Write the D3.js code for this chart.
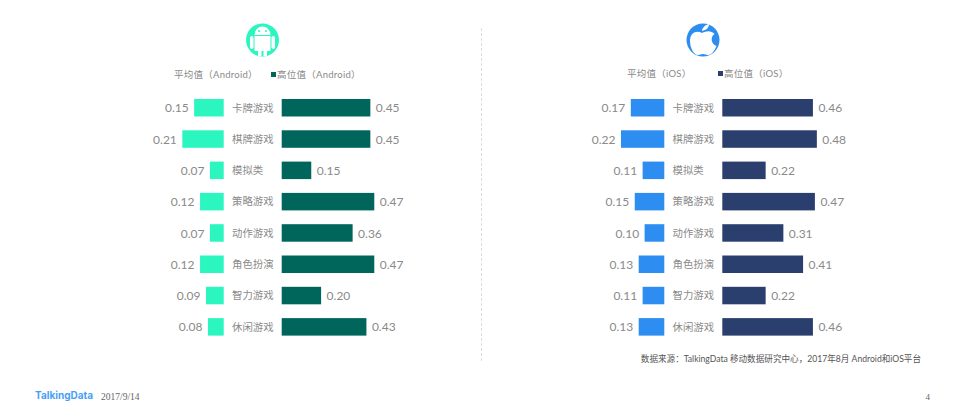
<!DOCTYPE html>
<html><head><meta charset="utf-8">
<script src="https://cdn.jsdelivr.net/npm/d3@7/dist/d3.min.js"></script>
<style>html,body{margin:0;padding:0;background:#fff}svg{display:block}
text{font-family:Lato,"Noto Sans CJK SC","Noto Sans",sans-serif}</style></head><body>
<svg id="c" width="965" height="420"></svg>
<script>
const categories = ["卡牌游戏","棋牌游戏","模拟类","策略游戏","动作游戏","角色扮演","智力游戏","休闲游戏"];
const androidAvg = [0.15,0.21,0.07,0.12,0.07,0.12,0.09,0.08];
const androidHigh = [0.45,0.45,0.15,0.47,0.36,0.47,0.20,0.43];
const iosAvg = [0.17,0.22,0.11,0.15,0.10,0.13,0.11,0.13];
const iosHigh = [0.46,0.48,0.22,0.47,0.31,0.41,0.22,0.46];
const legendAndroid = ["平均值（Android）","高位值（Android）"];
const legendIos = ["平均值（iOS）","高位值（iOS）"];
const sourceText = "数据来源：TalkingData 移动数据研究中心，2017年8月 Android和iOS平台";

const svg = d3.select("#c");
const y = d3.scaleBand().domain(categories).range([92.1,342.5]).paddingInner(0.441).paddingOuter(0.22);
const gray="#8a8a8a";
function panel(o){
  const xL=d3.scaleLinear().domain([0,1]).range([o.left,o.left-197]);
  const xR=d3.scaleLinear().domain([0,1]).range([o.right,o.right+197]);
  const fmt=d3.format(".2f");
  const g=svg.append("g");
  g.selectAll(".a").data(o.avg).join("rect").attr("x",d=>xL(d)).attr("width",d=>xL(0)-xL(d))
    .attr("y",(d,i)=>y(categories[i])).attr("height",y.bandwidth()).attr("fill",o.c1);
  g.selectAll(".h").data(o.high).join("rect").attr("x",xR(0)).attr("width",d=>xR(d)-xR(0))
    .attr("y",(d,i)=>y(categories[i])).attr("height",y.bandwidth()).attr("fill",o.c2);
  g.selectAll(".al").data(o.avg).join("text").attr("x",d=>xL(d)-5.5).attr("text-anchor","end")
    .attr("y",(d,i)=>y(categories[i])+y.bandwidth()/2+4.6).attr("font-size",12).attr("fill",gray).text(fmt);
  g.selectAll(".hl").data(o.high).join("text").attr("x",d=>xR(d)+5.5)
    .attr("y",(d,i)=>y(categories[i])+y.bandwidth()/2+4.6).attr("font-size",12).attr("fill",gray).text(fmt);
  g.selectAll(".cl").data(categories).join("text").attr("x",o.cat)
    .attr("y",d=>y(d)+y.bandwidth()/2+3.8).attr("font-size",10.4).attr("fill",gray).text(d=>d);
  g.append("text").attr("x",o.l1).attr("y",o.ly).attr("font-size",9.5).attr("letter-spacing",.25).attr("fill",gray).text(o.legend[0]);
  g.append("rect").attr("x",o.sw).attr("y",o.ly-6).attr("width",5).attr("height",5).attr("fill",o.c2);
  g.append("text").attr("x",o.sw+6).attr("y",o.ly).attr("font-size",9.5).attr("letter-spacing",.25).attr("fill",gray).text(o.legend[1]);
}
panel({left:223.7,right:281.7,cat:232,avg:androidAvg,high:androidHigh,c1:"#2cf6c0",c2:"#00655a",
  legend:legendAndroid,l1:174,sw:271,ly:78});
panel({left:664.3,right:722.3,cat:672.5,avg:iosAvg,high:iosHigh,c1:"#2d8df0",c2:"#2b3f6e",
  legend:legendIos,l1:627,sw:718,ly:77});

// divider
svg.append("line").attr("x1",481.5).attr("x2",481.5).attr("y1",28).attr("y2",361)
  .attr("stroke","#d4d4d4").attr("stroke-width",.8).attr("stroke-dasharray","3 2");

// android icon
const a=svg.append("g").attr("transform","translate(262.5,40)");
a.append("circle").attr("r",16.5).attr("fill","#2cf6c0");
a.append("path").attr("fill","#fff").attr("d","M-8,-5 A8,8.5 0 0 1 8,-5 Z");
a.append("rect").attr("x",-8).attr("y",-4).attr("width",16).attr("height",15).attr("fill","#fff");
a.append("rect").attr("x",-12.5).attr("y",-4).attr("width",3.5).attr("height",13).attr("rx",1.7).attr("fill","#fff");
a.append("rect").attr("x",9).attr("y",-4).attr("width",3.5).attr("height",13).attr("rx",1.7).attr("fill","#fff");
a.append("rect").attr("x",-4.5).attr("y",10).attr("width",3.5).attr("height",6).attr("fill","#fff");
a.append("rect").attr("x",1).attr("y",10).attr("width",3.5).attr("height",6).attr("fill","#fff");
a.append("circle").attr("cx",-3.5).attr("cy",-9).attr("r",1).attr("fill","#2cf6c0");
a.append("circle").attr("cx",3.5).attr("cy",-9).attr("r",1).attr("fill","#2cf6c0");

// apple icon
const b=svg.append("g").attr("transform","translate(703,40)");
b.append("circle").attr("r",16.5).attr("fill","#2d8df0");
b.append("path").attr("fill","#fff").attr("d","M-1,-7 C-6,-10 -13,-8 -13,1 C-13,8 -9,15 -5,15 C-3,15 -2,14 0,14 C2,14 3,15 5,15 C9,15 12,10 13.5,6 C8,4 7,-3 11.5,-6 C8,-10 3,-9 -1,-7 Z");
b.append("path").attr("fill","#fff").attr("d","M-1,-9 C-1,-12 2,-15 6,-16 C6,-12 3,-10 -1,-9 Z");

svg.append("text").attr("x",921).attr("y",362).attr("text-anchor","end").attr("font-size",8.6).attr("fill","#555").text(sourceText);
svg.append("text").attr("x",35).attr("y",399).attr("font-size",10).attr("font-weight",700).attr("fill","#4a9ff5")
  .style("font-family","Inter,'Noto Sans',sans-serif").text("TalkingData");
svg.append("text").attr("x",101).attr("y",400).attr("font-size",9.5).attr("fill","#666")
  .style("font-family","'Liberation Serif',serif").text("2017/9/14");
svg.append("text").attr("x",930).attr("y",400).attr("text-anchor","end").attr("font-size",9).attr("fill","#666")
  .style("font-family","'Liberation Serif',serif").text("4");
</script></body></html>
